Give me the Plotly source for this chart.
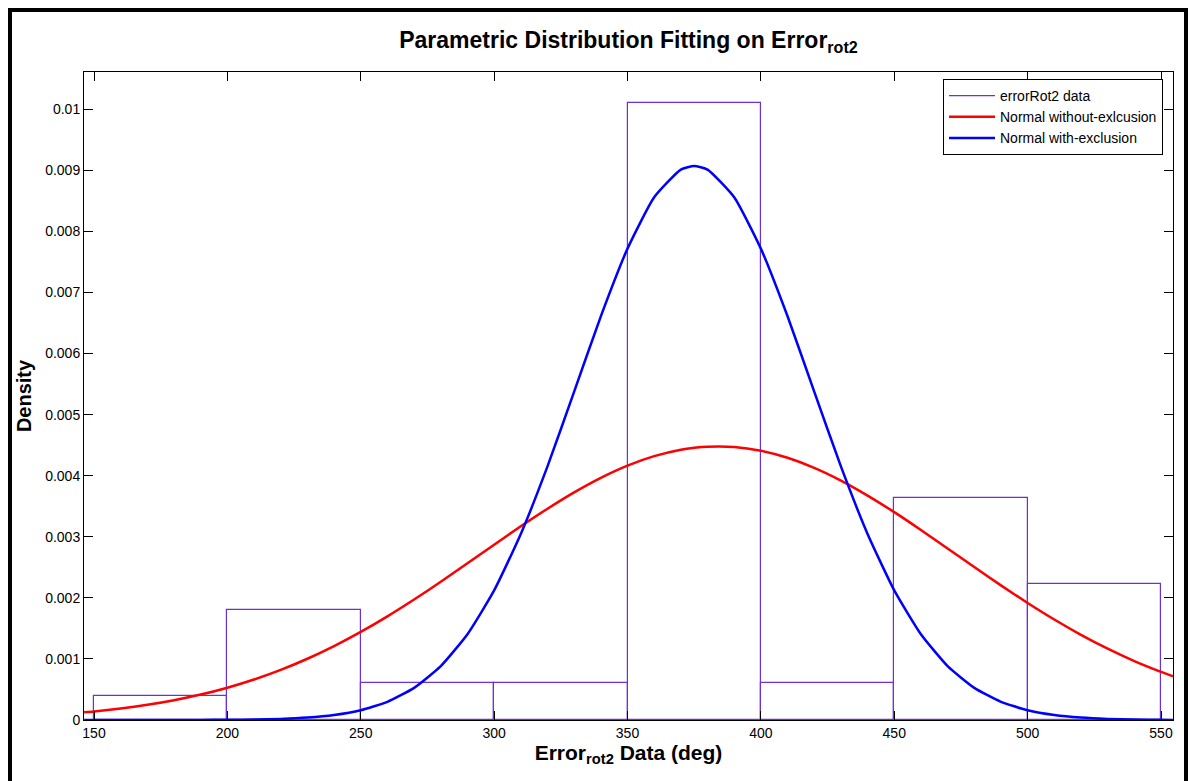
import plotly.graph_objects as go

# ---- data ----
bin_centers = [175, 225, 275, 325, 375, 425, 475, 525]
bin_width = 50
bin_density = [0.0004, 0.0018, 0.0006, 0.0006, 0.0101, 0.0006, 0.00363, 0.00223]

curve_x = [146.3, 150, 160, 170, 180, 190, 200, 210, 220, 230, 240, 250, 260, 270,
           280, 290, 300, 310, 320, 330, 340, 350, 360, 370, 375, 380, 390, 400, 410,
           420, 430, 440, 450, 460, 470, 480, 490, 500, 510, 520, 530, 540, 550, 554.5]

red_without_excl = [0.000127, 0.000141, 0.000189, 0.000249, 0.000324, 0.000416, 0.000529,
                    0.000663, 0.000820, 0.001003, 0.001210, 0.001442, 0.001697, 0.001972,
                    0.002264, 0.002565, 0.002870, 0.003171, 0.003459, 0.003727, 0.003965,
                    0.004165, 0.004320, 0.004425, 0.004457, 0.004475, 0.004470, 0.004408,
                    0.004293, 0.004128, 0.003920, 0.003675, 0.003403, 0.003111, 0.002809,
                    0.002504, 0.002204, 0.001916, 0.001645, 0.001394, 0.001167, 0.000964,
                    0.000787, 0.000715]

blue_with_excl = [0.0, 0.0, 0.0, 0.0000002, 0.0000005, 0.0000013, 0.0000033, 0.0000080,
                  0.0000183, 0.0000398, 0.0000819, 0.000160, 0.000298, 0.000526, 0.000882,
                  0.001404, 0.002122, 0.003046, 0.004152, 0.005376, 0.006610, 0.007718,
                  0.008559, 0.009012, 0.009070, 0.009012, 0.008559, 0.007718, 0.006610,
                  0.005376, 0.004152, 0.003046, 0.002122, 0.001404, 0.000882, 0.000526,
                  0.000298, 0.000160, 0.0000819, 0.0000398, 0.0000183, 0.0000080,
                  0.0000033, 0.0000015]

x_ticks = [150, 200, 250, 300, 350, 400, 450, 500, 550]
y_ticks = [0, 0.001, 0.002, 0.003, 0.004, 0.005, 0.006, 0.007, 0.008, 0.009, 0.01]
y_tick_text = ["0", "0.001", "0.002", "0.003", "0.004", "0.005", "0.006", "0.007",
               "0.008", "0.009", "0.01"]

PURPLE = "#7030D0"
FONT = "Liberation Sans, Arial, sans-serif"

fig = go.Figure()

fig.add_trace(go.Bar(
    x=bin_centers, y=bin_density, width=[bin_width] * len(bin_centers),
    marker=dict(color="rgba(0,0,0,0)", line=dict(color=PURPLE, width=1.2)),
    showlegend=False, hoverinfo="x+y",
))
# legend entry for the histogram (drawn as a line like the original)
fig.add_trace(go.Scatter(
    x=[None], y=[None], mode="lines", name="errorRot2 data",
    line=dict(color=PURPLE, width=1.2),
))
fig.add_trace(go.Scatter(
    x=curve_x, y=red_without_excl, mode="lines", name="Normal without-exlcusion",
    line=dict(color="#FF0000", width=2.5, shape="spline", smoothing=0.5),
))
fig.add_trace(go.Scatter(
    x=curve_x, y=blue_with_excl, mode="lines", name="Normal with-exclusion",
    line=dict(color="#0000FF", width=2.5, shape="spline", smoothing=0.5),
))

# plot area: x 84..1173 px, y 72..720 px
L, R, T, B = 84, 20, 72, 61
W, H = 1193, 781
pw, ph = W - L - R, H - T - B

def px_x(p):
    return (p - L) / pw

def px_y(p):
    return (H - B - p) / ph

fig.update_layout(
    width=W, height=H,
    margin=dict(l=L, r=R, t=T, b=B),
    paper_bgcolor="white", plot_bgcolor="white",
    font=dict(family=FONT, color="black", size=14),
    bargap=0,
    title=dict(
        text="<b>Parametric Distribution Fitting on Error<sub>rot2</sub></b>",
        x=0.5, xref="paper", xanchor="center",
        y=(H - 40) / H, yref="container", yanchor="middle",
        font=dict(size=23, family=FONT),
    ),
    xaxis=dict(
        range=[146.25, 554.5], tickvals=x_ticks, ticks="inside", ticklen=9,
        tickcolor="black", showline=True, linecolor="black", linewidth=1,
        mirror="ticks", showgrid=False, zeroline=False,
        tickfont=dict(size=14),
        title=dict(text="<b>Error<sub>rot2</sub> Data (deg)</b>",
                   font=dict(size=21), standoff=5),
    ),
    yaxis=dict(
        range=[0, 0.01061], tickvals=y_ticks, ticktext=y_tick_text,
        ticks="inside", ticklen=9, tickcolor="black", showline=True,
        linecolor="black", linewidth=1, mirror="ticks", showgrid=False,
        zeroline=False, tickfont=dict(size=14),
        title=dict(text="<b>Density</b>", font=dict(size=20), standoff=8),
    ),
    legend=dict(
        x=px_x(943), y=px_y(79), xanchor="left", yanchor="top",
        bgcolor="white", bordercolor="black", borderwidth=1,
        font=dict(size=14), tracegroupgap=0, itemwidth=46,
    ),
    shapes=[dict(
        type="rect", xref="paper", yref="paper",
        x0=px_x(10), x1=px_x(1186), y0=px_y(820), y1=px_y(10),
        line=dict(color="black", width=4), fillcolor="rgba(0,0,0,0)",
        layer="above",
    )],
)

fig.write_html("out.html")
